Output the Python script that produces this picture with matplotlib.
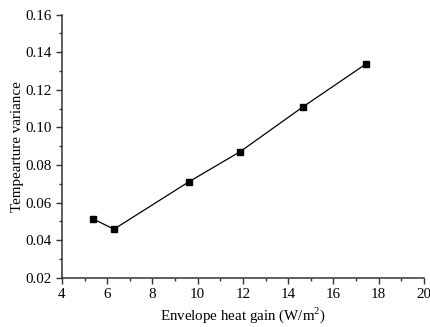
import matplotlib
matplotlib.use('Agg')
import matplotlib.pyplot as plt
from matplotlib.ticker import MultipleLocator

# datos
heat_gain = [5.37, 6.30, 9.62, 11.88, 14.66, 17.44]
temp_variance = [0.0513, 0.0458, 0.0711, 0.0871, 0.1110, 0.1338]

plt.rcParams['font.family'] = ['Liberation Serif', 'DejaVu Serif']
plt.rcParams['mathtext.fontset'] = 'custom'
plt.rcParams['mathtext.rm'] = 'Liberation Serif'

fig = plt.figure(figsize=(4.3, 3.27), dpi=100)
ax = fig.add_axes([0.144, 0.151, 0.842, 0.804])

ax.plot(heat_gain, temp_variance, color='black', linewidth=0.9,
        marker='s', markersize=4.6, markerfacecolor='black', markeredgecolor='black')

ax.set_xlim(4, 20)
ax.set_ylim(0.02, 0.16)
ax.xaxis.set_major_locator(MultipleLocator(2))
ax.xaxis.set_minor_locator(MultipleLocator(1))
ax.yaxis.set_major_locator(MultipleLocator(0.02))
ax.yaxis.set_minor_locator(MultipleLocator(0.01))
ax.yaxis.set_major_formatter(plt.FormatStrFormatter('%.2f'))

ax.spines['top'].set_visible(False)
ax.spines['right'].set_visible(False)
for s in ['left', 'bottom']:
    ax.spines[s].set_linewidth(1.1)
    ax.spines[s].set_color('#333333')
ax.tick_params(which='major', direction='out', length=4, width=1.0, color='#333333', labelsize=10.8)
ax.tick_params(which='minor', direction='out', length=2, width=1.0, color='#333333')

ax.set_xlabel('Envelope heat gain (W/m$^2$)', fontsize=10.8, labelpad=3)
ax.set_ylabel('Tempearture variance', fontsize=10.8, labelpad=1)

fig.savefig('out.png', dpi=100)
